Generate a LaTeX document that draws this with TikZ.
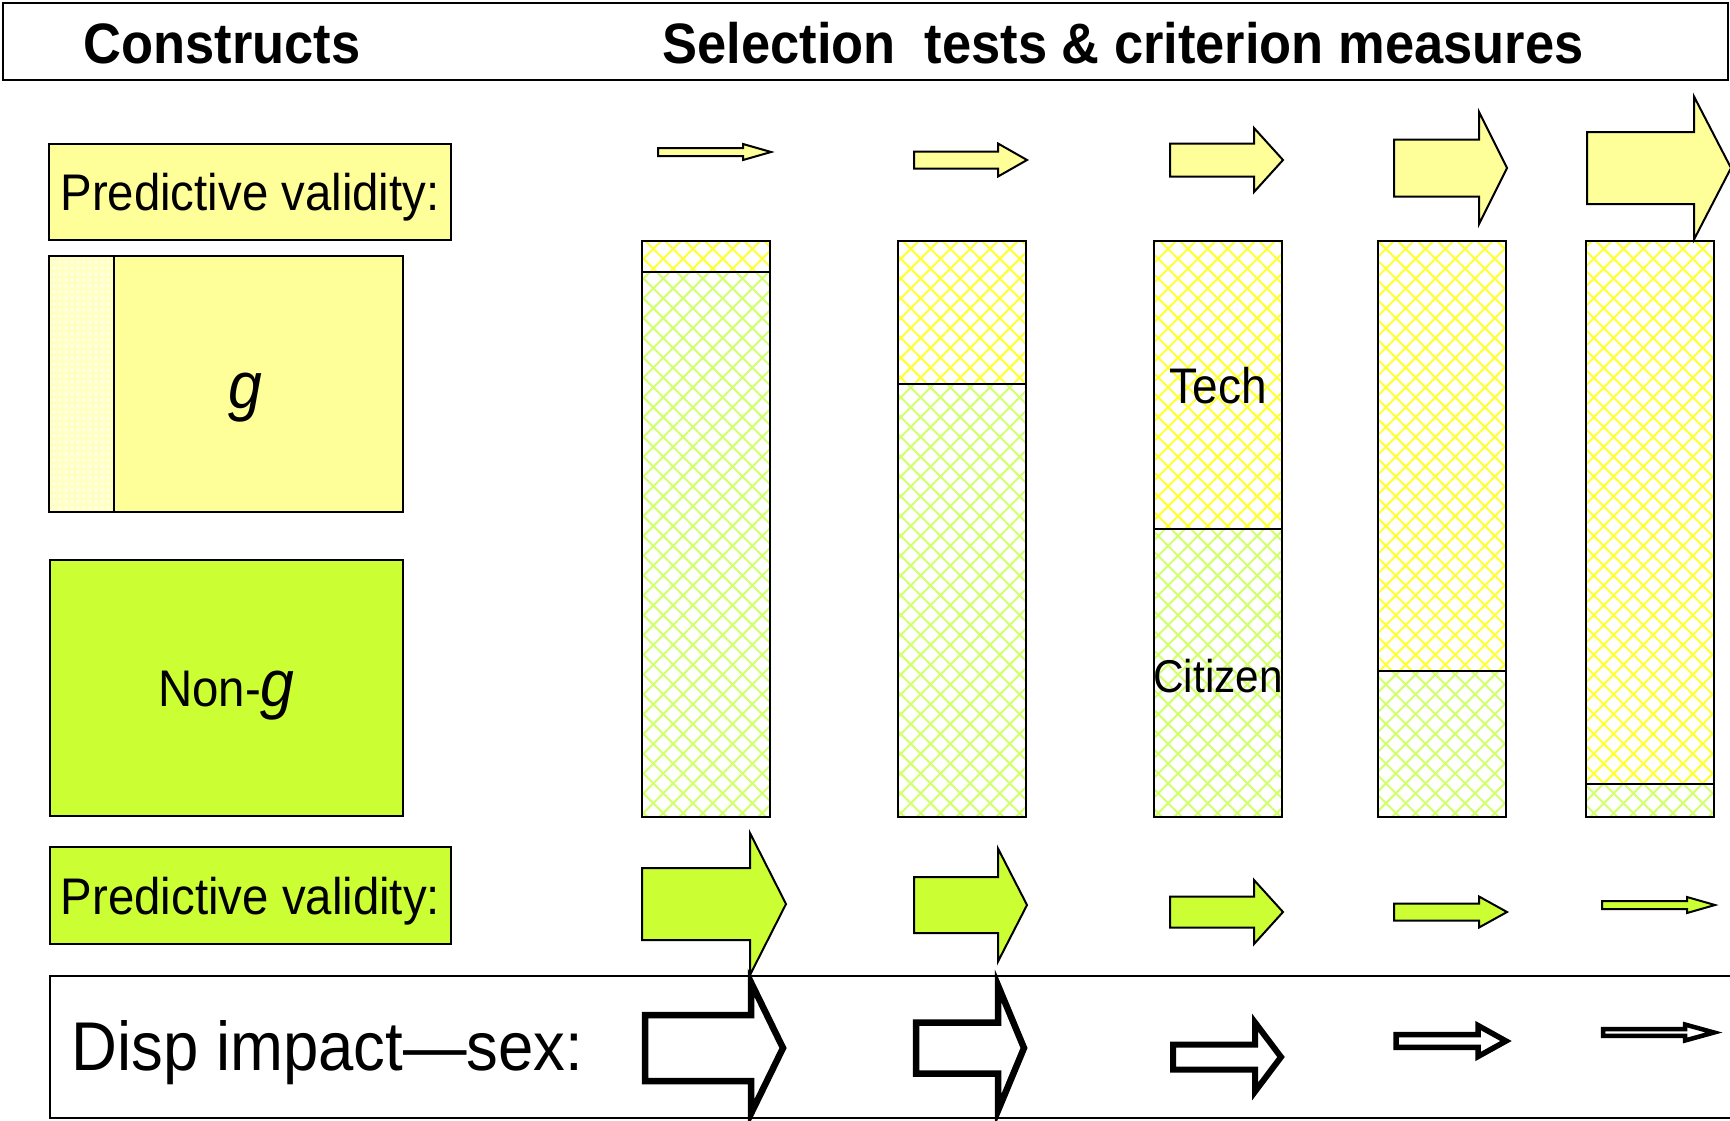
\documentclass[tikz,border=0pt]{standalone}
\usepackage{fontspec}
\setmainfont[FakeStretch=0.92]{Liberation Sans}
\usetikzlibrary{patterns.meta}

\definecolor{paleyellow}{HTML}{FFFF99}
\definecolor{limegreen}{HTML}{CCFF33}
\definecolor{hatchyellow}{HTML}{FFFF33}
\definecolor{hatchgreen}{HTML}{D2FF6E}

% block arrow: [style]{tail x}{head base x}{tip x}{mid y}{half shaft}{half head}
\newcommand{\fatarrow}[7][]{%
  \draw[#1] (#2,#5-#6) -- (#3,#5-#6) -- (#3,#5-#7) -- (#4,#5)
    -- (#3,#5+#7) -- (#3,#5+#6) -- (#2,#5+#6) -- cycle;}

\begin{document}
\begin{tikzpicture}[x=1pt,y=-1pt,line join=miter,
    boxline/.style={draw=black,line width=2pt},
    ybox/.style={boxline,fill=paleyellow,inner sep=0pt},
    gbox/.style={boxline,fill=limegreen,inner sep=0pt},
    yarrow/.style={boxline,fill=paleyellow},
    garrow/.style={boxline,fill=limegreen},
    bigarrow/.style={line width=#1,draw=black,fill=white},
    hatchup/.style={pattern={Lines[angle=45,distance=14pt,line width=2pt]},pattern color=#1},
    hatchdown/.style={pattern={Lines[angle=-45,distance=14pt,line width=2pt]},pattern color=#1},
    headfont/.style={font=\fontsize{57}{68}\selectfont\bfseries},
    pvfont/.style={font=\fontsize{51.5}{62}\selectfont}]
    \useasboundingbox (0,0) rectangle (1730,1120);

    % header
    \draw[boxline] (3,3) rectangle (1728,80);
    \node[headfont,anchor=base] (constructs) at (222,63) {Constructs};
    \node[headfont,anchor=base] (measures) at (1123,63) {Selection\ \ tests \& criterion measures};

    % construct boxes on the left
    \node[ybox,pvfont,minimum width=402pt,minimum height=96pt,
          text height=37pt,text depth=0pt] (pvg) at (250,192) {Predictive validity:};
    \fill[paleyellow!60] (49,256) rectangle (114,512);
    \fill[pattern={Dots[distance=6pt,radius=1.6pt]},pattern color=white] (49,256) rectangle (114,512);
    \fill[paleyellow] (114,256) rectangle (403,512);
    \draw[boxline] (49,256) rectangle (403,512);
    \draw[boxline] (114,256) -- (114,512);
    \node[font=\fontsize{66}{78}\selectfont\itshape,anchor=base] (g) at (245,408) {g};
    \node[gbox,font=\fontsize{51.5}{62}\selectfont,minimum width=353pt,minimum height=256pt,
          text height=37pt,text depth=0pt] (nong) at (226.5,688)
          {Non-{\fontsize{66}{78}\selectfont\itshape g}};
    \node[gbox,pvfont,minimum width=401pt,minimum height=97pt,
          text height=37pt,text depth=0pt] (pvng) at (250.5,895.5) {Predictive validity:};

    % test / criterion columns: g share on top, non-g share below
    \foreach \xl/\ysplit in {642/272, 898/384, 1154/529, 1378/671, 1586/784}
    {
        \fill[white] (\xl,241) rectangle (\xl+128,817);
        \fill[hatchup=hatchyellow] (\xl,241) rectangle (\xl+128,\ysplit);
        \fill[hatchdown=hatchyellow] (\xl,241) rectangle (\xl+128,\ysplit);
        \fill[hatchup=hatchgreen] (\xl,\ysplit) rectangle (\xl+128,817);
        \fill[hatchdown=hatchgreen] (\xl,\ysplit) rectangle (\xl+128,817);
        \draw[boxline] (\xl,241) rectangle (\xl+128,817);
        \draw[boxline] (\xl,\ysplit) -- (\xl+128,\ysplit);
    };
    \node[font=\fontsize{50}{60}\selectfont,anchor=base] (tech) at (1218,403) {Tech};
    \node[font=\fontsize{46}{56}\selectfont,anchor=base] (citizen) at (1218,692) {Citizen};

    % predictive validity of g (yellow) and non-g (green)
    \foreach \a/\b/\c/\m/\s/\h in {658/743/771/152/4/8, 914/998/1027/160/8.5/16.5,
        1170/1254/1283/160/16.5/32, 1394/1479/1507/168/28.5/56, 1587/1694/1731/168/36/71.5}
        {\fatarrow[yarrow]{\a}{\b}{\c}{\m}{\s}{\h}}
    \foreach \a/\b/\c/\m/\s/\h in {642/750/786/904/36/71, 914/998/1027/905/28/56.5,
        1170/1254/1283/912/15.5/32, 1394/1479/1507/912/8.5/15.5, 1602/1687/1715/905/4/8}
        {\fatarrow[garrow]{\a}{\b}{\c}{\m}{\s}{\h}}

    % disparate impact row
    \draw[boxline] (50,976) rectangle (1745,1118);
    \node[font=\fontsize{69}{82}\selectfont,anchor=base west] (disp) at (68,1070) {Disp impact---sex:};
    \foreach \a/\b/\c/\m/\s/\h/\w in {645/751/783/1048/33/65.5/6.5pt, 916/998/1024/1048/25.5/62.5/6.5pt,
        1173/1255/1281/1057/12.5/34.5/6pt, 1396/1478/1506/1041/6.3/15.5/5.5pt,
        1603/1685/1714/1032.5/3.3/8/4.5pt}
        {\fatarrow[bigarrow=\w]{\a}{\b}{\c}{\m}{\s}{\h}}
\end{tikzpicture}
\end{document}
